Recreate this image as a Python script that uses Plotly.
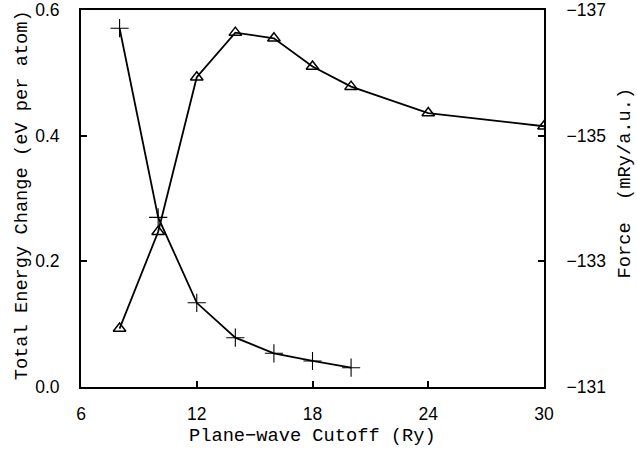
import plotly.graph_objects as go

# Data
cutoff_energy = [8, 10, 12, 14, 16, 18, 20]
energy_change = [0.571, 0.270, 0.134, 0.0785, 0.0536, 0.0414, 0.0307]

cutoff_force = [8, 10, 12, 14, 16, 18, 20, 24, 30]
force = [-131.93, -133.47, -135.93, -136.64, -136.55, -136.10, -135.78, -135.36, -135.15]

x_ticks = [6, 12, 18, 24, 30]
y_ticks = [0.0, 0.2, 0.4, 0.6]
y_ticktext = ["0.0", "0.2", "0.4", "0.6"]
y2_ticks = [-131, -133, -135, -137]
y2_ticktext = ["\u2212131", "\u2212133", "\u2212135", "\u2212137"]

x_title = "Plane\u2212wave Cutoff (Ry)"
y_title = "Total Energy Change (eV per atom)"
y2_title = "Force  (mRy/a.u.)"

tick_font = dict(family="Liberation Sans, Arial, sans-serif", size=17.5, color="black")
title_font = dict(family="Liberation Mono, Courier New, monospace", size=18.7, color="black")

fig = go.Figure()
fig.add_trace(go.Scatter(
    x=cutoff_energy, y=energy_change, mode="lines+markers",
    line=dict(color="black", width=1.8),
    marker=dict(symbol="cross-thin", size=13, color="black",
                line=dict(color="black", width=1.1)),
    yaxis="y", showlegend=False))
fig.add_trace(go.Scatter(
    x=cutoff_force, y=force, mode="lines+markers",
    line=dict(color="black", width=1.8),
    marker=dict(symbol="triangle-up-open", size=11, color="black",
                line=dict(color="black", width=1.5)),
    yaxis="y2", showlegend=False))

axis_common = dict(showline=True, linecolor="black", linewidth=2,
                   ticks="inside", ticklen=6, tickwidth=1.5, tickcolor="black",
                   showgrid=False, zeroline=False, tickfont=tick_font,
                   automargin=False)

fig.update_layout(
    width=637, height=451,
    margin=dict(l=81, r=93, t=10, b=64),
    paper_bgcolor="white", plot_bgcolor="white",
    xaxis=dict(range=[6, 30], tickvals=x_ticks, mirror=True,
               ticklabelstandoff=10, **axis_common),
    yaxis=dict(range=[0, 0.6], tickvals=y_ticks, ticktext=y_ticktext,
               mirror=True, ticklabelstandoff=16, **axis_common),
    yaxis2=dict(range=[-131, -137], tickvals=y2_ticks, ticktext=y2_ticktext,
                overlaying="y", side="right", ticklabelstandoff=17,
                **axis_common),
    annotations=[
        dict(text=x_title, xref="paper", yref="paper", x=0.5, y=-0.13,
             xanchor="center", yanchor="middle", showarrow=False, font=title_font),
        dict(text=y_title, xref="paper", yref="paper", x=-0.127, y=0.509,
             xanchor="center", yanchor="middle", textangle=-90,
             showarrow=False, font=title_font),
        dict(text=y2_title, xref="paper", yref="paper", x=1.175, y=0.54,
             xanchor="center", yanchor="middle", textangle=-90,
             showarrow=False, font=title_font),
    ],
)

fig.write_html("out.html", config={"displayModeBar": False},
               post_script="document.body.style.margin='0px';")
